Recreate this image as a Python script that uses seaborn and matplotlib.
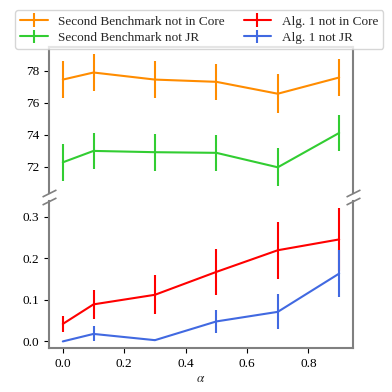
import numpy as np
import matplotlib
matplotlib.use("Agg")
import matplotlib.pyplot as plt
import seaborn as sns

# data
alpha = [0.0, 0.1, 0.3, 0.5, 0.7, 0.9]

sb_core = [77.44, 77.88, 77.44, 77.30, 76.56, 77.57]
sb_core_err = [1.15, 1.15, 1.15, 1.10, 1.20, 1.18]
sb_jr = [72.29, 73.00, 72.92, 72.88, 71.98, 74.12]
sb_jr_err = [1.15, 1.10, 1.15, 1.10, 1.18, 1.14]

alg_core = [0.042, 0.089, 0.112, 0.167, 0.219, 0.245]
alg_core_err = [0.019, 0.034, 0.047, 0.056, 0.068, 0.076]
alg_jr = [0.000, 0.018, 0.003, 0.048, 0.071, 0.163]
alg_jr_err = [0.000, 0.018, 0.003, 0.027, 0.042, 0.056]

labels = ["Second Benchmark not in Core", "Second Benchmark not JR",
          "Alg. 1 not in Core", "Alg. 1 not JR"]
colors = ["#ff8c00", "#32cd32", "#ff0000", "#4169e1"]

sns.set_style("ticks")
plt.rcParams['font.family'] = ['Liberation Serif', 'DejaVu Serif']
plt.rcParams['mathtext.fontset'] = 'stix'
plt.rcParams['font.size'] = 9.5

fig = plt.figure(figsize=(3.92, 3.92), dpi=100)
ax1 = fig.add_axes([0.125, 0.508, 0.7755, 0.371])
ax2 = fig.add_axes([0.125, 0.112, 0.7755, 0.375], sharex=ax1)

handles = []
for ax, ys, es, cs, ls in [(ax1, [sb_core, sb_jr], [sb_core_err, sb_jr_err], colors[:2], labels[:2]),
                           (ax2, [alg_core, alg_jr], [alg_core_err, alg_jr_err], colors[2:], labels[2:])]:
    for y, e, c, l in zip(ys, es, cs, ls):
        h = ax.errorbar(alpha, y, yerr=e, color=c, lw=1.5, elinewidth=1.5, capsize=0, label=l)
        handles.append(h)

for ax in (ax1, ax2):
    for s in ax.spines.values():
        s.set_color("gray")
        s.set_linewidth(1.5)
    ax.tick_params(colors="black", labelsize=9.5)

ax1.spines["bottom"].set_visible(False)
ax2.spines["top"].set_visible(False)
ax1.tick_params(axis="x", bottom=False, labelbottom=False)
ax1.set_yticks([72, 74, 76, 78])
ax2.set_yticks([0.0, 0.1, 0.2, 0.3])
ax2.set_xticks([0.0, 0.2, 0.4, 0.6, 0.8])
ax2.set_xlabel(r"$\alpha$", labelpad=2)

# break marks
d = 0.5
kw = dict(marker=[(-1, -d), (1, d)], markersize=10, linestyle="none",
          color="gray", mec="gray", mew=1.2, clip_on=False)
ax1.plot([0, 1], [0, 0], transform=ax1.transAxes, **kw)
ax2.plot([0, 1], [1, 1], transform=ax2.transAxes, **kw)

ax1.legend(handles, labels, loc="upper center", bbox_to_anchor=(0.494, 1.275), ncol=2,
           fontsize=9.5, handlelength=2.1, labelspacing=0.3, columnspacing=1.4,
           borderaxespad=0.2)

fig.savefig("out.png", dpi=100)
